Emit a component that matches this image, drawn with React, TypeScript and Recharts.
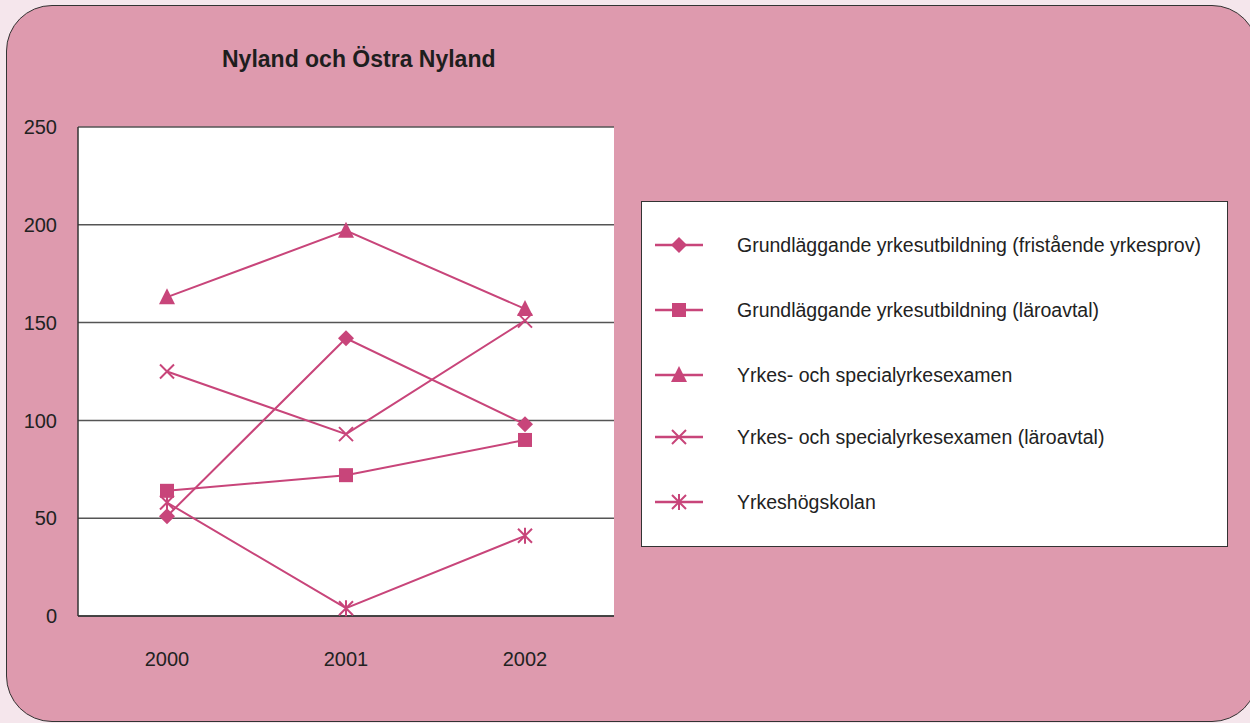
import React from "react";
import {
  LineChart,
  Line,
  XAxis,
  YAxis,
  CartesianGrid,
} from "recharts";

const years = ["2000", "2001", "2002"];
const yTicks = [0, 50, 100, 150, 200, 250];

const fristaende = [51, 142, 98];
const laroavtal = [64, 72, 90];
const yrkesExamen = [163, 197, 157];
const yrkesLaroavtal = [125, 93, 151];
const yrkeshogskolan = [58, 4, 41];

const COLOR = "#c8457a";
const FONT = "'Liberation Sans', Arial, Helvetica, sans-serif";

type Shape = "diamond" | "square" | "triangle" | "cross" | "star";

const series: { key: string; name: string; shape: Shape; values: number[] }[] = [
  { key: "fristaende", name: "Grundläggande yrkesutbildning (fristående yrkesprov)", shape: "diamond", values: fristaende },
  { key: "laroavtal", name: "Grundläggande yrkesutbildning (läroavtal)", shape: "square", values: laroavtal },
  { key: "yrkesExamen", name: "Yrkes- och specialyrkesexamen", shape: "triangle", values: yrkesExamen },
  { key: "yrkesLaroavtal", name: "Yrkes- och specialyrkesexamen (läroavtal)", shape: "cross", values: yrkesLaroavtal },
  { key: "yrkeshogskolan", name: "Yrkeshögskolan", shape: "star", values: yrkeshogskolan },
];

const data = years.map((year, i) => {
  const row: Record<string, string | number> = { year };
  series.forEach((s) => {
    row[s.key] = s.values[i];
  });
  return row;
});

const Marker = ({ shape, cx, cy }: { shape: Shape; cx: number; cy: number }) => {
  switch (shape) {
    case "diamond":
      return <path d={`M${cx},${cy - 8} L${cx + 8},${cy} L${cx},${cy + 8} L${cx - 8},${cy} Z`} fill={COLOR} />;
    case "square":
      return <rect x={cx - 7} y={cy - 7} width={14} height={14} fill={COLOR} />;
    case "triangle":
      return <path d={`M${cx},${cy - 9} L${cx + 8},${cy + 7} L${cx - 8},${cy + 7} Z`} fill={COLOR} />;
    case "cross":
      return (
        <path
          d={`M${cx - 7},${cy - 7} L${cx + 7},${cy + 7} M${cx + 7},${cy - 7} L${cx - 7},${cy + 7}`}
          stroke={COLOR}
          strokeWidth={2}
        />
      );
    default:
      return (
        <path
          d={`M${cx - 7},${cy - 7} L${cx + 7},${cy + 7} M${cx + 7},${cy - 7} L${cx - 7},${cy + 7} M${cx},${cy - 8} L${cx},${cy + 8}`}
          stroke={COLOR}
          strokeWidth={2}
        />
      );
  }
};

// legend is drawn outside the chart so it doesn't eat the plot height
const LegendBox = () => (
  <div
    style={{
      position: "absolute",
      left: 641,
      top: 201,
      width: 585,
      height: 344,
      background: "#fff",
      border: "1px solid #333",
      fontFamily: FONT,
    }}
  >
    {series.map((s, i) => {
      const top = [43, 108, 173, 235, 300][i];
      return (
        <div key={s.key} style={{ position: "absolute", left: 0, top: top - 12, height: 24, width: "100%" }}>
          <svg width={70} height={24} style={{ position: "absolute", left: 13, top: 0 }}>
            <line x1={0} y1={12} x2={48} y2={12} stroke={COLOR} strokeWidth={2.5} />
            <Marker shape={s.shape} cx={24} cy={12} />
          </svg>
          <span
            style={{
              position: "absolute",
              left: 95,
              top: 0,
              fontSize: 19.5,
              lineHeight: "24px",
              color: "#222",
              whiteSpace: "nowrap",
            }}
          >
            {s.name}
          </span>
        </div>
      );
    })}
  </div>
);

export default function App() {
  return (
    <div
      style={{
        position: "fixed",
        left: 0,
        top: 0,
        width: 1250,
        height: 723,
        background: "#f5e6ec",
        overflow: "hidden",
      }}
    >
      <div
        style={{
          position: "absolute",
          left: 6,
          top: 5,
          width: 1250,
          height: 715,
          background: "#de9aae",
          border: "1.5px solid #333",
          borderRadius: 46,
        }}
      />
      <div
        style={{
          position: "absolute",
          left: 222,
          top: 45,
          fontFamily: FONT,
          fontWeight: "bold",
          fontSize: 23,
          lineHeight: "28px",
          color: "#1e1e1e",
          whiteSpace: "nowrap",
        }}
      >
        Nyland och Östra Nyland
      </div>
      <div style={{ position: "absolute", left: 0, top: 0 }}>
        <LineChart
          width={1250}
          height={723}
          data={data}
          margin={{ top: 127, right: 636, bottom: 47, left: 18 }}
        >
          <CartesianGrid
            vertical={false}
            stroke="#555"
            strokeWidth={1.5}
            fill="#fff"
            fillOpacity={1}
          />
          <XAxis
            dataKey="year"
            padding={{ left: 89, right: 89 }}
            tickLine={false}
            tickSize={0}
            tickMargin={36}
            axisLine={{ stroke: "#333", strokeWidth: 1.5 }}
            tick={{ fill: "#222", fontSize: 20, fontFamily: FONT }}
            height={60}
          />
          <YAxis
            domain={[0, 250]}
            ticks={yTicks}
            tickLine={false}
            tickSize={0}
            tickMargin={21}
            axisLine={{ stroke: "#333", strokeWidth: 1.5 }}
            tick={{ fill: "#222", fontSize: 20, fontFamily: FONT }}
            width={60}
          />
          <YAxis
            yAxisId="right"
            orientation="right"
            domain={[0, 250]}
            tick={false}
            tickLine={false}
            axisLine={{ stroke: "#333", strokeWidth: 1.5 }}
            width={0}
          />
          {series.map((s) => (
            <Line
              key={s.key}
              dataKey={s.key}
              name={s.name}
              type="linear"
              stroke={COLOR}
              strokeWidth={2}
              isAnimationActive={false}
              dot={(props: any) => (
                <Marker key={`${s.key}-${props.index}`} shape={s.shape} cx={props.cx} cy={props.cy} />
              )}
              activeDot={false}
            />
          ))}
        </LineChart>
      </div>
      <LegendBox />
    </div>
  );
}
